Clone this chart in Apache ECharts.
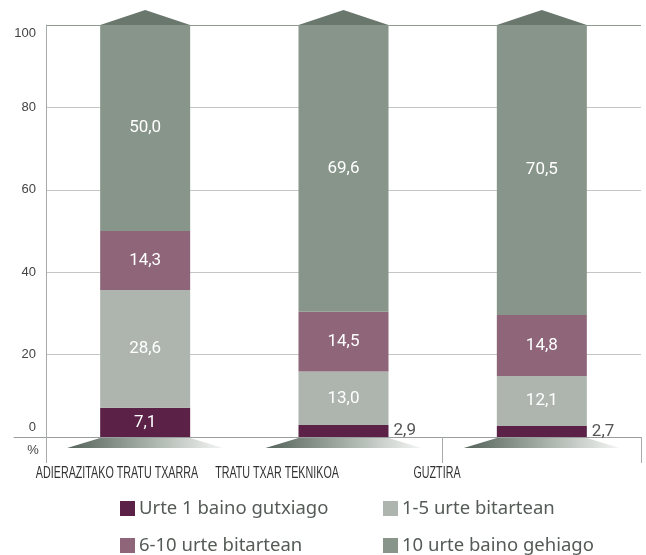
<!DOCTYPE html>
<html>
<head>
<meta charset="utf-8">
<script src="https://cdn.jsdelivr.net/npm/echarts@6/dist/echarts.min.js"></script>
<style>
  html, body { margin: 0; padding: 0; background: #fff; }
  #chart { width: 646px; height: 555px; }
</style>
</head>
<body>
<div id="chart"></div>
<script>
// datuak
var categories = ['ADIERAZITAKO TRATU TXARRA', 'TRATU TXAR TEKNIKOA', 'GUZTIRA'];
var urte1 = [7.1, 2.9, 2.7];
var urte1_5 = [28.6, 13.0, 12.1];
var urte6_10 = [14.3, 14.5, 14.8];
var urte10 = [50.0, 69.6, 70.5];
var seriesNames = ['Urte 1 baino gutxiago', '1-5 urte bitartean', '6-10 urte bitartean', '10 urte baino gehiago'];
var colors = ['#5b2147', '#adb5ae', '#8e6579', '#88958a'];

var chart = echarts.init(document.getElementById('chart'));

function fmt(v) {
  return v.toFixed(1).replace('.', ',');
}

/*segmentu txikien etiketa kanpoan*/
function barData(values) {
  return values.map(function (v) {
    if (v < 5) {
      return {
        value: v,
        label: { position: 'right', distance: 5, color: '#555', fontSize: 17 }
      };
    }
    return v;
  });
}

function barSeries(idx, values) {
  return {
    name: seriesNames[idx],
    type: 'bar',
    stack: 'total',
    barWidth: 90,
    xAxisIndex: 0,
    yAxisIndex: 0,
    itemStyle: { color: colors[idx] },
    label: {
      show: true,
      position: 'inside',
      color: '#fff',
      fontSize: 17,
      fontFamily: 'Roboto',
      formatter: function (p) { return fmt(p.value); }
    },
    data: barData(values)
  };
}

/*goiko gezia eta beheko oinarria*/
function renderDeco(params, api) {
  var top = api.coord([api.value(0), 100]);
  var base = api.coord([api.value(0), 0]);
  var half = 45;
  return {
    type: 'group',
    children: [
      {
        type: 'polygon',
        shape: { points: [[top[0] - half, top[1]], [top[0], top[1] - 15], [top[0] + half, top[1]]] },
        style: { fill: '#6a776d' }
      },
      {
        type: 'polygon',
        shape: {
          points: [
            [base[0] - half, base[1] + 1],
            [base[0] + half, base[1] + 1],
            [base[0] + half + 33, base[1] + 11],
            [base[0] - half - 33, base[1] + 11]
          ]
        },
        style: {
          fill: new echarts.graphic.LinearGradient(0, 0, 1, 0, [
            { offset: 0, color: '#55635a' },
            { offset: 0.5, color: '#a3ada5' },
            { offset: 1, color: '#f4f5f4' }
          ])
        }
      }
    ]
  };
}

var option = {
  animation: false,
  backgroundColor: '#fff',
  grid: [
    { left: 46, right: 5, top: 25, bottom: 118 },
    { left: 37, right: 129, top: 25, bottom: 118 },
    { left: 14, right: 5, top: 25, bottom: 118 }
  ],
  legend: [
    { data: [seriesNames[0]], left: 120, top: 499 },
    { data: [seriesNames[1]], left: 383, top: 499 },
    { data: [seriesNames[2]], left: 120, top: 536 },
    { data: [seriesNames[3]], left: 383, top: 536 }
  ].map(function (l) {
    return Object.assign(l, {
      icon: 'rect',
      itemWidth: 15,
      itemHeight: 15,
      itemGap: 0,
      padding: 0,
      selectedMode: false,
      textStyle: { fontSize: 18.5, color: '#555b57', fontFamily: 'Noto Sans', padding: [0, 0, 0, -1] }
    });
  }),
  xAxis: [
    {
      type: 'category',
      gridIndex: 0,
      data: categories,
      axisLine: { show: false },
      axisTick: { show: true, length: 26, lineStyle: { color: '#a8aca9' } },
      axisLabel: { show: false }
    },
    {
      // etiketen ardatza (testua graphic bidez, estututa)
      type: 'category',
      gridIndex: 1,
      data: categories,
      show: false
    },
    {
      type: 'value',
      gridIndex: 2,
      axisLine: { show: true, lineStyle: { color: '#9a9e9b' } },
      axisTick: { show: false },
      axisLabel: { show: false },
      splitLine: { show: false }
    }
  ],
  yAxis: [
    {
      type: 'value',
      gridIndex: 0,
      min: 0,
      max: 100,
      interval: 20,
      name: '%',
      nameLocation: 'start',
      nameGap: 7,
      nameTextStyle: { fontSize: 13, color: '#444', padding: [0, 26, 0, 0] },
      axisLine: { show: true, lineStyle: { color: '#a8aca9' } },
      axisTick: { show: false },
      axisLabel: {
        margin: 10,
        color: '#444',
        fontSize: 13,
        formatter: function (v) {
          if (v === 0) return '{lo|' + v + '}';
          if (v === 100) return '{hi|' + v + '}';
          return v;
        },
        rich: {
          lo: { fontSize: 13, color: '#444', padding: [0, 0, 20, 0] },
          hi: { fontSize: 13, color: '#444', padding: [16, 0, 0, 0] }
        }
      },
      splitLine: {
        show: true,
        lineStyle: { color: ['#9a9e9b', '#c3c7c4', '#c3c7c4', '#c3c7c4', '#c3c7c4', '#8c9a8f'] }
      }
    },
    { type: 'value', gridIndex: 1, show: false },
    { type: 'value', gridIndex: 2, show: false }
  ],
  series: [
    barSeries(0, urte1),
    barSeries(1, urte1_5),
    barSeries(2, urte6_10),
    barSeries(3, urte10),
    {
      type: 'custom',
      xAxisIndex: 0,
      yAxisIndex: 0,
      clip: false,
      silent: true,
      renderItem: renderDeco,
      data: categories.map(function (c, i) { return [i]; }),
      z: 1
    }
  ]
};

chart.setOption(option);

/*kategoria-etiketak: ardatzetik kalkulatutako posizioa, letra estua*/
var labelY = chart.convertToPixel({ yAxisIndex: 1 }, 0) + 36;
chart.setOption({
  graphic: categories.map(function (c) {
    return {
      type: 'text',
      x: chart.convertToPixel({ xAxisIndex: 1 }, c),
      y: labelY,
      scaleX: 0.65,
      silent: true,
      style: {
        text: c,
        fontSize: 16.5,
        fontFamily: 'Liberation Sans',
        fill: '#333',
        align: 'center',
        verticalAlign: 'middle'
      }
    };
  })
});
</script>
</body>
</html>
